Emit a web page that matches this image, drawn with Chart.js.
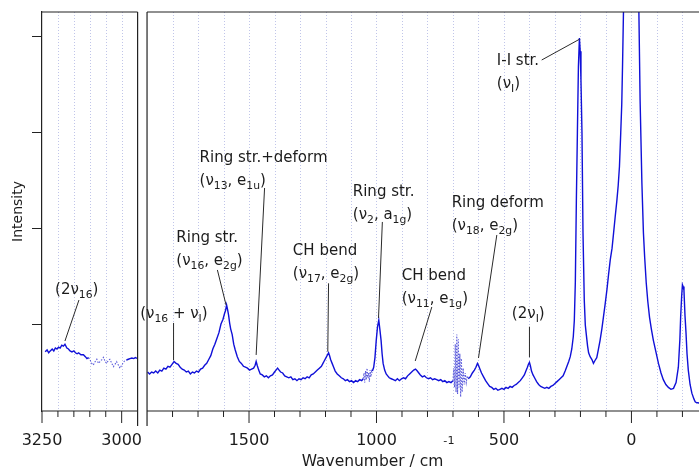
<!DOCTYPE html>
<html>
<head>
<meta charset="utf-8">
<script src="https://cdn.jsdelivr.net/npm/chart.js@4.4.1/dist/chart.umd.min.js"></script>
<style>
  html, body { margin: 0; padding: 0; background: #ffffff; }
  #c { display: block; width: 699px; height: 470px; }
</style>
</head>
<body>
<canvas id="c" width="699" height="470"></canvas>
<script>
// ---------------- DATA (wavenumber / cm-1, intensity a.u.) ----------------
// High-wavenumber window (left panel)
const highRegionSolidA = [
  [3240,0.72],[3234,0.74],[3229,0.71],[3224,0.73],[3218,0.75],[3213,0.73],[3208,0.76],[3203,0.75],
  [3198,0.77],[3193,0.76],[3188,0.79],[3183,0.78],[3178,0.80],[3172,0.76],[3167,0.75],[3162,0.73],
  [3156,0.72],[3150,0.73],[3145,0.71],[3140,0.70],[3135,0.71],[3128,0.69],[3120,0.69],[3114,0.67],
  [3109,0.65],[3104,0.66]
];
const highRegionNoise = [
  [3104,0.66],[3099,0.635],[3094,0.60],[3089,0.583],[3083,0.62],[3078,0.643],[3073,0.60],[3068,0.618],
  [3062,0.64],[3057,0.663],[3052,0.62],[3047,0.601],[3042,0.63],[3037,0.643],[3031,0.60],[3026,0.566],
  [3021,0.59],[3016,0.618],[3010,0.58],[3005,0.549],[3000,0.58],[2995,0.607],[2990,0.63],[2985,0.635]
];
const highRegionSolidB = [
  [2985,0.635],[2979,0.643],[2974,0.65],[2968,0.656],[2962,0.65],[2957,0.66],[2952,0.653]
];
// Low-wavenumber window (right panel)
const lowRegionSolidA = [
  [1898,0.51],[1890,0.49],[1882,0.51],[1874,0.50],[1866,0.52],[1858,0.50],[1850,0.53],[1842,0.52],
  [1834,0.55],[1826,0.54],[1818,0.57],[1810,0.56],[1802,0.59],[1794,0.62],[1786,0.60],[1778,0.59],
  [1770,0.56],[1762,0.54],[1754,0.53],[1746,0.51],[1738,0.52],[1730,0.49],[1722,0.51],[1714,0.50],
  [1706,0.52],[1698,0.51],[1690,0.54],[1682,0.55],[1674,0.58],[1666,0.60],[1658,0.64],[1650,0.68],
  [1642,0.75],[1634,0.80],[1626,0.86],[1618,0.92],[1610,1.01],[1602,1.06],[1596,1.12],[1592,1.15],
  [1588,1.21],[1584,1.16],[1580,1.10],[1576,1.02],[1572,0.96],[1566,0.90],[1560,0.80],[1554,0.74],
  [1546,0.67],[1538,0.62],[1530,0.60],[1522,0.57],[1514,0.56],[1506,0.55],[1498,0.53],[1490,0.54],
  [1482,0.55],[1476,0.58],[1472,0.62],[1468,0.58],[1462,0.53],[1456,0.49],[1448,0.48],[1440,0.46],
  [1432,0.47],[1424,0.45],[1416,0.47],[1408,0.48],[1400,0.51],[1394,0.53],[1388,0.55],[1382,0.53],
  [1376,0.51],[1368,0.50],[1360,0.47],[1352,0.46],[1344,0.45],[1336,0.46],[1328,0.43],[1320,0.44],
  [1312,0.42],[1304,0.44],[1296,0.43],[1288,0.45],[1280,0.44],[1272,0.46],[1264,0.45],[1256,0.48],
  [1248,0.49],[1240,0.51],[1232,0.53],[1224,0.55],[1216,0.57],[1210,0.60],[1204,0.63],[1198,0.66],
  [1192,0.69],[1188,0.71],[1184,0.68],[1180,0.64],[1174,0.60],[1168,0.56],[1162,0.52],[1154,0.49],
  [1146,0.47],[1138,0.45],[1130,0.44],[1122,0.42],[1114,0.43],[1106,0.41],[1098,0.42],[1090,0.40],
  [1082,0.42],[1074,0.41],[1066,0.43],[1058,0.42],[1052,0.44]
];
const lowRegionNoiseA = [
  [1052,0.44],[1049,0.50],[1046,0.40],[1043,0.52],[1040,0.43],[1037,0.55],[1034,0.45],[1031,0.50],
  [1028,0.41],[1025,0.53],[1022,0.46],[1019,0.52],[1016,0.50]
];
const lowRegionSolidB = [
  [1016,0.52],[1011,0.56],[1006,0.66],[1001,0.84],[996,0.98],[991,1.05],[987,0.96],[982,0.84],
  [978,0.70],[974,0.60],[968,0.53],[962,0.49],[956,0.47],[950,0.45],[942,0.44],[934,0.43],
  [926,0.42],[918,0.44],[910,0.42],[902,0.44],[894,0.45],[886,0.44],[878,0.47],[870,0.49],
  [862,0.51],[854,0.53],[847,0.54],[840,0.52],[834,0.50],[828,0.48],[820,0.46],[812,0.47],
  [804,0.45],[796,0.44],[788,0.45],[780,0.43],[772,0.44],[764,0.43],[756,0.42],[748,0.43],
  [740,0.41],[732,0.42],[724,0.40],[716,0.41],[708,0.40],[700,0.42]
];
const lowRegionNoiseB = [
  [700,0.42],[697,0.55],[694,0.35],[691,0.80],[688,0.30],[685,0.90],[682,0.28],[679,0.85],
  [676,0.35],[673,0.70],[670,0.25],[667,0.65],[664,0.30],[660,0.55],[656,0.38],[652,0.50],
  [648,0.40],[644,0.47],[640,0.44]
];
const lowRegionSolidC = [
  [640,0.44],[632,0.46],[624,0.50],[616,0.53],[610,0.56],[604,0.60],[600,0.58],[594,0.54],
  [588,0.50],[580,0.46],[572,0.42],[564,0.39],[556,0.36],[548,0.35],[540,0.33],[532,0.34],
  [524,0.32],[516,0.33],[508,0.34],[500,0.33],[492,0.35],[484,0.34],[476,0.36],[468,0.35],
  [460,0.37],[452,0.38],[444,0.40],[436,0.42],[428,0.45],[420,0.48],[414,0.52],[408,0.56],
  [404,0.59],[400,0.61],[396,0.57],[392,0.52],[386,0.48],[380,0.45],[372,0.41],[364,0.38],
  [356,0.36],[348,0.35],[340,0.34],[332,0.35],[324,0.34],[316,0.36],[308,0.37],[300,0.39],
  [292,0.41],[284,0.43],[276,0.45],[268,0.47],[260,0.52],[253,0.57],[246,0.62],[240,0.67],
  [234,0.75],[228,0.88],[224,1.05],[220,1.45],[216,2.30],[212,3.00],[208,3.69],[204,3.99],
  [201,3.85],[198,3.55],[194,3.00],[190,1.96],[185,1.26],[181,1.00],[177,0.90],[172,0.78],
  [168,0.71],[162,0.67],[155,0.64],[149,0.60],[143,0.63],[136,0.66],[130,0.74],[123,0.84],
  [116,0.96],[110,1.08],[103,1.22],[96,1.37],[90,1.52],[83,1.68],[76,1.80],[70,1.96],
  [64,2.12],[57,2.30],[52,2.45],[47,2.65],[42,3.00],[38,3.30],[35,3.69],[31,4.30],
  [26,5.5],[20,7.5],[12,10],[6,12],[0,12.5],[-6,12],[-12,10],[-20,7],
  [-26,5.2],[-29,4.3],[-34,3.34],[-41,2.48],[-47,1.96],[-52,1.70],[-58,1.44],[-64,1.25],
  [-71,1.08],[-78,0.96],[-86,0.84],[-96,0.72],[-106,0.60],[-116,0.50],[-125,0.43],[-135,0.38],
  [-145,0.35],[-155,0.33],[-165,0.34],[-175,0.40],[-184,0.56],[-190,0.85],[-193,1.08],[-197,1.30],
  [-200,1.42],[-203,1.40],[-206,1.36],[-210,1.10],[-214,0.92],[-218,0.70],[-223,0.53],[-230,0.38],
  [-237,0.29],[-245,0.23],[-250,0.20],[-256,0.19],[-262,0.19],[-268,0.18]
];

// Tick values (cm-1)
const majorTicks = [3250, 3000, 1500, 1000, 500, 0];
const leftMinorTicks = [3200, 3150, 3100, 3050];
const rightMinorTicks = [1800, 1700, 1600, 1400, 1300, 1200, 1100, 900, 800, 700, 600, 400, 300, 200, 100, -100, -200];
const gridValues = [3200, 3150, 3100, 3050, 3000, 1800, 1700, 1600, 1500, 1400, 1300, 1200, 1100, 1000,
                    900, 800, 700, 600, 500, 400, 300, 200, 100, 0, -100, -200];
const intensityTicks = [1, 2, 3, 4];

// Band assignments: text anchor [wavenumber, intensity], leader from -> to
const bandLabels = [
  { lines: ['(2ν_{16})'], at: [3209, 1.323], leader: [[3134, 1.26], [3178, 0.833]] },
  { lines: ['(ν_{16} + ν_{I})'], at: [1927, 1.073], leader: [[1796, 1.021], [1796, 0.635]] },
  { lines: ['Ring str.', '(ν_{16}, e_{2g})'], at: [1785, 1.868], leader: [[1624, 1.573], [1590, 1.208]] },
  { lines: ['Ring str.+deform', '(ν_{13}, e_{1u})'], at: [1694, 2.701], leader: [[1439, 2.427], [1472, 0.6875]] },
  { lines: ['CH bend', '(ν_{17}, e_{2g})'], at: [1328, 1.729], leader: [[1188, 1.434], [1191, 0.722]] },
  { lines: ['Ring str.', '(ν_{2}, a_{1g})'], at: [1093, 2.347], leader: [[977, 2.073], [992, 1.073]] },
  { lines: ['CH bend', '(ν_{11}, e_{1g})'], at: [901, 1.469], leader: [[783, 1.1875], [848, 0.625]] },
  { lines: ['Ring deform', '(ν_{18}, e_{2g})'], at: [705, 2.232], leader: [[528, 1.9375], [600, 0.656]] },
  { lines: ['(2ν_{I})'], at: [469, 1.073], leader: [[400, 0.982], [400, 0.664]] },
  { lines: ['I-I str.', '(ν_{I})'], at: [528, 3.708], leader: [[352, 3.76], [204, 3.976]] }
];

// ---------------- BROKEN AXIS MAPPING ----------------
const LEFT_START = 3250, LEFT_END = 2950, LEFT_STRETCH = 1.25;
const RIGHT_START = 1900, RIGHT_END = -265, GAP = 37, SPLIT = 2400;
const LEFT_SPAN = (LEFT_START - LEFT_END) * LEFT_STRETCH;
const AXIS_MAX = LEFT_SPAN + GAP + (RIGHT_START - RIGHT_END);
function axisPos(v) {
  return v > SPLIT ? (LEFT_START - v) * LEFT_STRETCH : LEFT_SPAN + GAP + (RIGHT_START - v);
}
const toPoints = arr => arr.map(([v, i]) => ({ x: axisPos(v), y: i }));

// ---------------- STYLE ----------------
const FONT = '"DejaVu Sans", "Liberation Sans", sans-serif';
const TEXT = '#1c1c1c';
const AXIS = '#222222';
const LINE_BLUE = '#1010d8';
const NOISE_BLUE = 'rgba(50,50,210,0.8)';
const GRID = 'rgba(140,150,215,0.55)';

function drawRich(ctx, text, x, y, size) {
  const re = /([_^])\{([^}]*)\}/g;
  let last = 0, m; const segs = [];
  while ((m = re.exec(text))) {
    if (m.index > last) segs.push([text.slice(last, m.index), '']);
    segs.push([m[2], m[1]]);
    last = re.lastIndex;
  }
  if (last < text.length) segs.push([text.slice(last), '']);
  let cx = x;
  for (const [s, kind] of segs) {
    const fs = kind ? size * 0.72 : size;
    ctx.font = fs + 'px ' + FONT;
    const dy = kind === '_' ? size * 0.28 : (kind === '^' ? -size * 1.45 : 0);
    ctx.fillText(s, cx, y + dy);
    cx += ctx.measureText(s).width;
  }
  return cx - x;
}

const brokenAxisPlugin = {
  id: 'brokenAxis',
  beforeDatasetsDraw(chart) {
    const { ctx, chartArea: a, scales: { x } } = chart;
    ctx.save();
    ctx.strokeStyle = GRID; ctx.lineWidth = 1; ctx.setLineDash([1, 2]);
    for (const v of gridValues) {
      const px = Math.round(x.getPixelForValue(axisPos(v))) + 0.5;
      ctx.beginPath(); ctx.moveTo(px, a.top); ctx.lineTo(px, a.bottom); ctx.stroke();
    }
    ctx.restore();
  },
  afterDraw(chart) {
    const { ctx, chartArea: a, scales: { x, y } } = chart;
    const bL = x.getPixelForValue(LEFT_SPAN);
    const bR = x.getPixelForValue(LEFT_SPAN + GAP);
    ctx.save();
    ctx.strokeStyle = AXIS; ctx.lineWidth = 1.2; ctx.setLineDash([]);
    const seg = (x1, y1, x2, y2) => { ctx.beginPath(); ctx.moveTo(x1, y1); ctx.lineTo(x2, y2); ctx.stroke(); };
    seg(a.left, a.bottom, bL, a.bottom); seg(bR, a.bottom, a.right, a.bottom);
    seg(a.left, a.top, bL, a.top); seg(bR, a.top, a.right, a.top);
    seg(bL, a.top, bL, a.bottom + 15); seg(bR, a.top, bR, a.bottom + 15);
    ctx.lineWidth = 1;
    for (const v of majorTicks) { const p = x.getPixelForValue(axisPos(v)); seg(p, a.bottom, p, a.bottom + 12); }
    for (const v of leftMinorTicks.concat(rightMinorTicks)) { const p = x.getPixelForValue(axisPos(v)); seg(p, a.bottom, p, a.bottom + 6); }
    ctx.fillStyle = TEXT; ctx.textBaseline = 'alphabetic'; ctx.textAlign = 'left';
    ctx.strokeStyle = '#2a2a2a'; ctx.lineWidth = 1;
    for (const b of bandLabels) {
      const tx = x.getPixelForValue(axisPos(b.at[0]));
      const ty = y.getPixelForValue(b.at[1]);
      b.lines.forEach((ln, i) => drawRich(ctx, ln, tx, ty + i * 23, 15));
      const [p1, p2] = b.leader;
      seg(x.getPixelForValue(axisPos(p1[0])), y.getPixelForValue(p1[1]),
          x.getPixelForValue(axisPos(p2[0])), y.getPixelForValue(p2[1]));
    }
    const title = 'Wavenumber / cm';
    ctx.font = '15.5px ' + FONT;
    const w = ctx.measureText(title).width;
    const cxm = (a.left + a.right) / 2 + 2;
    drawRich(ctx, title + '^{-1}', cxm - w / 2, 466, 15.5);
    ctx.restore();
  }
};

const lineDs = (data, dotted) => ({
  data: toPoints(data),
  borderColor: dotted ? NOISE_BLUE : LINE_BLUE,
  borderWidth: dotted ? 1.1 : 1.4,
  borderDash: dotted ? [1.5, 1.5] : [],
  pointRadius: 0,
  tension: 0,
  fill: false
});

new Chart(document.getElementById('c'), {
  type: 'line',
  data: {
    datasets: [
      lineDs(highRegionSolidA, false),
      lineDs(highRegionNoise, true),
      lineDs(highRegionSolidB, false),
      lineDs(lowRegionSolidA, false),
      lineDs(lowRegionNoiseA, true),
      lineDs(lowRegionSolidB, false),
      lineDs(lowRegionNoiseB, true),
      lineDs(lowRegionSolidC, false)
    ]
  },
  options: {
    responsive: false,
    animation: false,
    devicePixelRatio: 1,
    layout: { padding: { top: 12, right: 0, bottom: 0, left: 0 } },
    plugins: { legend: { display: false }, tooltip: { enabled: false } },
    scales: {
      x: {
        type: 'linear', min: 0, max: AXIS_MAX,
        afterBuildTicks: s => { s.ticks = majorTicks.map(v => ({ value: axisPos(v) })); },
        afterFit: s => { s.height = 59; },
        ticks: {
          callback: (val, idx) => String(majorTicks[idx]),
          autoSkip: false, maxRotation: 0, padding: 20,
          color: TEXT, font: { family: FONT, size: 16 }
        },
        grid: { display: false, drawTicks: false, tickLength: 0 },
        border: { display: false }
      },
      y: {
        min: 0.104, max: 4.26,
        afterBuildTicks: s => { s.ticks = intensityTicks.map(v => ({ value: v })); },
        afterFit: s => { s.width = 42; },
        ticks: { callback: () => '', padding: 0 },
        grid: { drawOnChartArea: false, drawTicks: true, tickLength: 10, color: AXIS, lineWidth: 1 },
        border: { display: true, color: AXIS, width: 1.2 },
        title: { display: true, text: 'Intensity', color: TEXT, font: { family: FONT, size: 14 }, padding: { top: 10, bottom: 0 } }
      }
    }
  },
  plugins: [brokenAxisPlugin]
});
</script>
</body>
</html>
